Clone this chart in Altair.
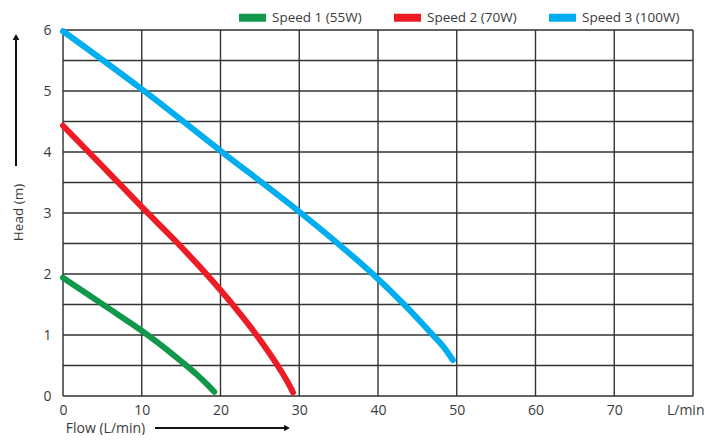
import altair as alt
import pandas as pd

series_names = ["Speed 1 (55W)", "Speed 2 (70W)", "Speed 3 (100W)"]
series_colors = ["#12984a", "#ed1c24", "#00aeef"]

green_flow = [0, 3, 6, 9, 12, 15, 17, 18.3, 19.2]
green_head = [1.94, 1.68, 1.42, 1.16, 0.88, 0.57, 0.35, 0.19, 0.07]

red_flow = [0, 5, 10, 14.6, 18.2, 21.6, 24.8, 27.4, 28.6, 29.2]
red_head = [4.43, 3.77, 3.1, 2.5, 2.0, 1.49, 0.96, 0.47, 0.21, 0.06]

blue_flow = [0, 10, 20, 30.2, 34.9, 39.5, 43.4, 47.1, 48.3, 49.5]
blue_head = [5.98, 5.03, 4.02, 3.0, 2.5, 1.98, 1.49, 0.98, 0.81, 0.59]

x_ticks = [0, 10, 20, 30, 40, 50, 60, 70, 80]
y_ticks = [0, 1, 2, 3, 4, 5, 6]
y_grid = [i * 0.5 for i in range(13)]

rows = []
for name, fl, hd in zip(series_names, [green_flow, red_flow, blue_flow],
                        [green_head, red_head, blue_head]):
    for i, (f, h) in enumerate(zip(fl, hd)):
        rows.append({"series": name, "flow": f, "head": h, "order": i})
df = pd.DataFrame(rows)

FONT = "Open Sans"
TXT = "#3a3a3a"
GRID = "#333333"

x_scale = alt.Scale(domain=[0, 80], nice=False, zero=False)
y_scale = alt.Scale(domain=[0, 6], nice=False, zero=False)

x_axis = alt.Axis(values=x_ticks, grid=False, ticks=False, domain=False,
                  labelExpr="datum.value == 80 ? 'L/min' : datum.label",
                  labelAlign={"condition": {"test": "datum.value == 80", "value": "right"},
                              "value": "center"},
                  labelOffset={"condition": {"test": "datum.value == 80", "value": 11},
                               "value": 0},
                  labelFont=FONT, labelFontSize=14, labelColor=TXT,
                  labelPadding=7, labelFlush=False,
                  title="Flow (L/min)", titleFont=FONT, titleFontSize=14,
                  titleFontWeight="normal", titleColor=TXT,
                  titleAnchor="start", titleAlign="center",
                  titleBaseline="middle", titleX=42, titleY=32)
y_axis = alt.Axis(values=y_ticks, grid=False, ticks=False, domain=False,
                  labelFont=FONT, labelFontSize=14, labelColor=TXT,
                  labelPadding=12, labelFlush=False,
                  title="Head (m)", titleFont=FONT, titleFontSize=13.5,
                  titleFontWeight="normal", titleColor=TXT,
                  titleAngle=-90, titleAlign="center",
                  titleBaseline="middle", titleX=-45, titleY=182)

grid_y = alt.Chart(pd.DataFrame({"g": y_grid})).mark_rule(
    color=GRID, strokeWidth=1.4
).encode(y=alt.Y("g:Q", scale=y_scale, axis=y_axis, title="Head (m)"))

grid_x = alt.Chart(pd.DataFrame({"g": x_ticks})).mark_rule(
    color=GRID, strokeWidth=1.4
).encode(x=alt.X("g:Q", scale=x_scale, axis=x_axis, title="Flow (L/min)"))

lines = alt.Chart(df).mark_line(
    strokeWidth=6, strokeCap="round", strokeJoin="round", interpolate="monotone"
).encode(
    x=alt.X("flow:Q", scale=x_scale, axis=x_axis, title="Flow (L/min)"),
    y=alt.Y("head:Q", scale=y_scale, axis=y_axis, title="Head (m)"),
    color=alt.Color("series:N",
                    scale=alt.Scale(domain=series_names, range=series_colors),
                    legend=alt.Legend(orient="none", direction="horizontal",
                                      legendX=172, legendY=-30, title=None,
                                      symbolType="stroke",
                                      symbolSize=729, symbolStrokeWidth=8,
                                      labelFont=FONT, labelFontSize=13.5,
                                      labelColor=TXT, labelOffset=2,
                                      columnPadding=16)),
    order="order:Q",
)

one = pd.DataFrame({"a": [0]})
v_arrow = alt.Chart(one).mark_rule(color="#111111", strokeWidth=2).encode(
    x=alt.value(-47), y=alt.value(8), y2=alt.value(136))
v_head = alt.Chart(one).mark_point(shape="triangle-up", filled=True, color="#111111",
                                   size=45, opacity=1).encode(
    x=alt.value(-47), y=alt.value(7))
h_arrow = alt.Chart(one).mark_rule(color="#111111", strokeWidth=2).encode(
    x=alt.value(92), x2=alt.value(222), y=alt.value(398))
h_head = alt.Chart(one).mark_point(shape="triangle-right", filled=True, color="#111111",
                                   size=45, opacity=1).encode(
    x=alt.value(224), y=alt.value(398))

chart = alt.layer(grid_y, grid_x, lines, v_arrow, v_head, h_arrow, h_head).properties(
    width=630, height=366,
    padding={"left": 55, "top": 22, "right": 11, "bottom": 39},
    autosize=alt.AutoSizeParams(type="none"),
).configure_view(stroke=GRID, strokeWidth=1.4).configure(background="white")

chart.save("out.html", embed_options={"renderer": "svg", "actions": False})
